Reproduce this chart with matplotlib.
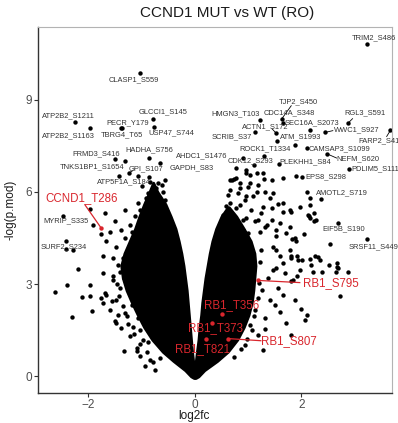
import matplotlib
matplotlib.use("Agg")
import matplotlib.pyplot as plt

plt.rcParams['font.family'] = ['Liberation Sans', 'DejaVu Sans']

# dense body of the volcano (x limits per -log p level)
left_y         = [-0.05, 0.0, 0.2, 0.5, 0.8, 1.2, 1.6, 2.0, 2.4, 2.8, 3.2, 3.6, 4.0, 4.4, 4.8, 5.2, 5.6, 6.0, 6.3]
core_left_out  = [-0.02, -0.07, -0.18, -0.40, -0.60, -0.80, -0.95, -1.07, -1.18, -1.28, -1.35, -1.38, -1.32, -1.22, -1.12, -1.04, -0.95, -0.85, -0.78]
core_left_in   = [0, 0, -0.01, -0.03, -0.05, -0.07, -0.09, -0.11, -0.13, -0.15, -0.18, -0.21, -0.25, -0.30, -0.36, -0.45, -0.55, -0.70, -0.78]
right_y        = [-0.05, 0.0, 0.2, 0.5, 0.8, 1.2, 1.6, 2.0, 2.4, 2.8, 3.2, 3.6, 4.0, 4.4, 4.8, 5.2, 5.5]
core_right_in  = [0, 0, 0.01, 0.02, 0.04, 0.07, 0.09, 0.12, 0.14, 0.17, 0.20, 0.24, 0.28, 0.33, 0.40, 0.50, 0.62]
core_right_out = [0.02, 0.07, 0.18, 0.42, 0.62, 0.80, 0.92, 1.01, 1.07, 1.10, 1.12, 1.14, 1.12, 1.05, 0.92, 0.78, 0.64]

# single sites outside the dense body
left_dots = [(-2.63, 2.76), (-2.39, 2.96), (-1.97, 2.96), (-2.11, 2.57), (-1.97, 2.62), (-1.92, 2.12),
             (-2.30, 1.92), (-2.19, 3.50), (-2.41, 4.39), (-2.28, 4.10), (-1.75, 4.64), (-2.47, 5.22),
             (-1.75, 2.55), (-1.66, 2.66), (-1.56, 2.46), (-1.44, 2.01), (-1.47, 1.74), (-1.33, 0.84),
             (-1.08, 0.84), (-1.72, 3.36), (-1.53, 3.25), (-1.69, 2.71), (-1.72, 2.39), (-1.59, 2.17),
             (-1.50, 1.79), (-1.38, 1.57), (-1.22, 1.30), (-1.09, 0.92), (-1.03, 0.65), (-0.94, 0.33),
             (-1.47, 2.49), (-1.53, 3.14), (-1.28, 1.95), (-1.16, 1.62), (-0.97, 1.19), (-0.84, 0.54),
             (-0.75, 0.22), (-1.26, 2.82), (-1.18, 2.33), (-1.07, 1.91), (-1.33, 3.21), (-1.03, 1.52),
             (-0.88, 1.13), (-0.66, 0.61), (-1.49, 7.07), (-1.45, 3.02), (-1.42, 2.62), (-1.35, 2.30),
             (-1.30, 2.05), (-1.25, 1.70), (-1.14, 1.38), (-1.02, 1.05), (-0.90, 0.80), (-0.78, 0.48)]
upper_left_dots = [(-1.06, 6.52), (-0.86, 6.48), (-0.69, 6.29), (-0.81, 6.09), (-0.72, 6.12), (-0.62, 6.23),
                   (-0.88, 5.96), (-0.75, 5.94), (-0.91, 5.80), (-0.69, 5.74), (-1.06, 5.64), (-0.72, 5.69),
                   (-1.69, 5.31), (-1.03, 5.42), (-1.31, 5.42), (-1.50, 5.04), (-1.38, 4.77), (-1.91, 4.93),
                   (-1.22, 4.93), (-1.03, 5.04), (-1.59, 4.71), (-1.09, 4.55), (-1.31, 4.50), (-1.47, 4.22),
                   (-1.22, 4.22), (-1.66, 4.39), (-1.34, 3.85), (-1.53, 3.85), (-1.72, 3.90), (-1.44, 3.63),
                   (-1.26, 3.47), (-1.41, 2.88), (-1.12, 5.20), (-1.18, 4.70), (-1.28, 4.05), (-1.40, 3.40),
                   (-0.98, 6.20), (-0.60, 6.00), (-0.55, 5.75)]
right_dots = [(1.89, 6.53), (2.36, 5.77), (1.80, 5.36), (2.16, 5.58), (2.14, 5.22), (2.23, 5.31), (2.17, 5.15),
              (2.23, 5.04), (2.27, 5.07), (2.05, 4.64), (1.83, 4.47), (1.89, 4.39), (2.53, 4.30), (1.81, 3.85),
              (1.94, 3.79), (2.02, 3.79), (2.17, 3.82), (2.31, 3.88), (2.35, 3.77), (2.19, 3.63), (2.52, 3.63),
              (2.66, 3.57), (2.68, 3.52), (2.65, 3.38), (2.88, 3.38), (2.22, 3.39), (1.92, 3.28), (1.84, 3.14),
              (1.80, 3.09), (2.72, 2.62), (1.88, 2.47), (2.00, 2.19), (2.10, 2.01), (2.06, 1.84), (1.81, 1.36),
              (1.71, 1.75), (1.28, 0.85), (1.31, 1.54), (1.69, 3.36), (2.38, 3.38), (1.26, 2.82), (1.41, 2.49),
              (1.56, 2.88), (1.13, 2.17), (1.31, 1.91), (1.50, 2.33), (1.03, 1.68), (1.18, 1.36), (0.94, 1.03),
              (1.59, 2.10), (1.65, 2.65), (1.37, 3.21), (1.52, 3.53), (1.22, 3.73), (1.03, 3.47), (1.20, 3.05),
              (1.18, 2.55), (1.12, 1.95), (1.08, 1.50), (0.98, 1.20), (0.86, 0.90), (0.74, 0.62), (1.25, 4.10)]
upper_right_dots = [(0.74, 6.42), (0.66, 6.37), (0.97, 6.61), (1.03, 6.29), (0.84, 6.12), (1.28, 6.61),
                    (1.44, 6.39), (1.31, 6.01), (1.66, 6.45), (0.94, 5.74), (1.09, 5.85), (1.41, 5.80),
                    (1.56, 5.61), (0.78, 5.47), (1.06, 5.42), (1.28, 5.52), (1.66, 5.36), (1.78, 5.42),
                    (0.69, 5.20), (0.97, 5.15), (1.19, 5.09), (1.44, 5.09), (1.97, 5.52), (2.16, 5.80),
                    (2.13, 5.26), (1.78, 4.87), (1.53, 4.77), (1.31, 4.87), (0.91, 4.77), (0.72, 4.87),
                    (2.25, 3.90), (2.66, 3.69), (1.53, 4.12), (1.81, 3.90), (1.97, 3.47), (1.66, 3.69),
                    (1.47, 3.47), (0.97, 6.72), (1.03, 6.56), (0.69, 6.39), (0.78, 6.45), (1.16, 6.61),
                    (1.29, 6.42), (0.84, 6.29), (1.00, 6.17), (1.19, 6.23), (0.66, 6.07), (0.81, 5.96),
                    (0.97, 5.85), (1.16, 6.01), (1.47, 5.96), (1.66, 5.64), (0.66, 5.64), (0.84, 5.58),
                    (1.25, 5.31), (1.44, 5.47), (0.53, 5.26), (0.72, 5.20), (0.91, 5.09), (1.13, 5.04),
                    (1.35, 4.93), (1.59, 4.99), (0.53, 4.77), (0.78, 4.71), (1.00, 4.66), (1.22, 4.71),
                    (1.53, 4.55), (1.72, 4.66), (1.88, 4.50), (1.78, 4.12), (1.47, 4.22), (1.91, 3.90),
                    (1.59, 3.90), (0.90, 7.11), (1.11, 6.88), (0.77, 6.78), (0.62, 5.90), (0.58, 5.55)]

# labelled sites: name, site x, site y, label x, label y
black_names = ['TRIM2_S486', 'CLASP1_S559', 'ATP2B2_S1211', 'ATP2B2_S1163', 'PECR_Y179', 'TBRG4_T65',
               'GLCCI1_S145', 'USP47_S744', 'HMGN3_T103', 'TJP2_S450', 'CDC14A_S348', 'ACTN1_S172',
               'SEC16A_S2073', 'RGL3_S591', 'WWC1_S927', 'FARP2_S419', 'SCRIB_S37', 'ATM_S1993',
               'ROCK1_T1334', 'CAMSAP3_S1099', 'NEFM_S620', 'PLEKHH1_S84', 'PDLIM5_S111', 'CDK12_S293',
               'AHDC1_S1476', 'GAPDH_S83', 'HADHA_S756', 'FRMD3_S416', 'TNKS1BP1_S1654', 'GPI_S107',
               'ATP5F1A_S184', 'MYRIP_S335', 'SURF2_S234', 'EPS8_S298', 'AMOTL2_S719', 'EIF5B_S190',
               'SRSF11_S449']
black_x = [3.23, -1.02, -2.25, -1.97, -1.38, -1.37, -0.79, -0.77, 1.22, 1.63, 1.65, 1.52, 2.16, 2.88, 2.44,
           3.67, 1.13, 1.54, 1.88, 2.11, 2.49, 1.58, 2.89, 1.30, -0.66, -0.55, -0.86, -1.31, -1.42, -1.24,
           -0.84, -1.97, -2.41, 2.01, 2.10, 2.69, 3.24]
black_y = [10.82, 9.86, 8.27, 8.07, 8.09, 8.07, 8.37, 8.12, 8.34, 8.37, 8.24, 7.92, 8.00, 8.24, 7.93,
           8.00, 7.96, 7.66, 7.53, 7.42, 7.23, 6.90, 6.74, 7.17, 6.94, 6.37, 7.10, 6.99, 6.53, 6.61,
           6.32, 5.44, 4.14, 6.47, 6.01, 4.99, 4.47]
black_tx = [2.95, -1.14, -2.36, -2.37, -1.26, -1.36, -0.59, -0.44, 0.77, 1.95, 1.77, 1.33, 2.20, 3.19, 3.04,
            3.06, 0.69, 1.98, 1.32, 2.71, 3.06, 2.08, 2.94, 1.05, 0.13, -0.06, -0.85, -1.84, -1.93, -0.91,
            -1.33, -2.41, -2.45, 2.46, 2.77, 2.80, 2.88]
black_ty = [11.00, 9.64, 8.46, 7.82, 8.25, 7.86, 8.59, 7.91, 8.53, 8.94, 8.56, 8.12, 8.25, 8.56, 8.01,
            7.66, 7.79, 7.78, 7.41, 7.41, 7.07, 6.99, 6.75, 7.01, 7.16, 6.78, 7.37, 7.23, 6.81, 6.74,
            6.34, 5.07, 4.21, 6.48, 5.98, 4.79, 4.21]
left_aligned = ['TRIM2_S486', 'FARP2_S419', 'PDLIM5_S111', 'SRSF11_S449']
black_segments = {'TJP2_S450': (1.81, 8.80), 'ACTN1_S172': (1.45, 8.05), 'WWC1_S927': (2.59, 7.99),
                  'RGL3_S591': (2.96, 8.38), 'FARP2_S419': (3.60, 7.80), 'NEFM_S620': (2.66, 7.10),
                  'GPI_S107': (-1.16, 6.69)}

red_names = ['CCND1_T286', 'RB1_S795', 'RB1_T356', 'RB1_T373', 'RB1_T821', 'RB1_S807']
red_x = [-1.75, 1.19, 0.52, 0.32, 0.21, 0.62]
red_y = [4.81, 3.12, 2.04, 1.75, 1.22, 1.23]
red_tx = [-2.13, 2.55, 0.70, 0.39, 0.14, 1.77]
red_ty = [5.81, 3.04, 2.33, 1.57, 0.90, 1.16]
red_segments = {'CCND1_T286': (-2.06, 5.58), 'RB1_S795': (1.97, 3.05), 'RB1_S807': (1.24, 1.16)}

x_ticks = [-2, 0, 2]
y_ticks = [0, 3, 6, 9]

RED = '#d9262d'

fig = plt.figure(figsize=(3.98, 4.23), dpi=100)
ax = fig.add_axes([38 / 398, 30 / 423, 354 / 398, 366 / 423])

# dense part as two arms joined at the bottom
ax.fill_betweenx(left_y, core_left_out, core_left_in, color='black', lw=2, zorder=1)
ax.fill_betweenx(right_y, core_right_in, core_right_out, color='black', lw=2, zorder=1)

all_dots = left_dots + upper_left_dots + right_dots + upper_right_dots
ax.scatter([d[0] for d in all_dots], [d[1] for d in all_dots], s=10, c='black', lw=0, zorder=2)
ax.scatter(black_x, black_y, s=10, c='black', lw=0, zorder=2)
ax.scatter(red_x, red_y, s=10, c=RED, lw=0, zorder=3)

for name, px, py, tx, ty in zip(black_names, black_x, black_y, black_tx, black_ty):
    if name in black_segments:
        sx, sy = black_segments[name]
        ax.plot([px, sx], [py, sy], color='black', lw=0.6, zorder=2)
    ha = 'left' if name in left_aligned else 'center'
    ax.text(tx, ty, name, fontsize=5.4, color='#333333', ha=ha, va='center', zorder=4, clip_on=False)

for name, px, py, tx, ty in zip(red_names, red_x, red_y, red_tx, red_ty):
    if name in red_segments:
        sx, sy = red_segments[name]
        ax.plot([px, sx], [py, sy], color=RED, lw=0.9, zorder=3)
    ax.text(tx, ty, name, fontsize=8.3, color=RED, ha='center', va='center', zorder=4)

ax.set_xlim(-2.94, 3.70)
ax.set_ylim(-0.54, 11.36)
ax.set_xticks(x_ticks)
ax.set_yticks(y_ticks)
ax.tick_params(colors='#333333', labelcolor='#4d4d4d', labelsize=8.5, length=3, width=0.8, pad=1.5)
for side in ['left', 'bottom']:
    ax.spines[side].set_color('#333333')
    ax.spines[side].set_linewidth(1.0)
for side in ['top', 'right']:
    ax.spines[side].set_color('#b3b3b3')
    ax.spines[side].set_linewidth(0.8)

ax.set_xlabel('log2fc', fontsize=8.5, color='#1a1a1a')
ax.xaxis.set_label_coords(0.44, -0.063)
ax.xaxis.label.set_va('center')
ax.set_ylabel('-log(p.mod)', fontsize=8.5, color='#1a1a1a', labelpad=6)
fig.text(227.5 / 398, 1 - 13 / 423, 'CCND1 MUT vs WT (RO)', fontsize=11, color='#1a1a1a',
         ha='center', va='center')

fig.savefig('out.png', dpi=100)
